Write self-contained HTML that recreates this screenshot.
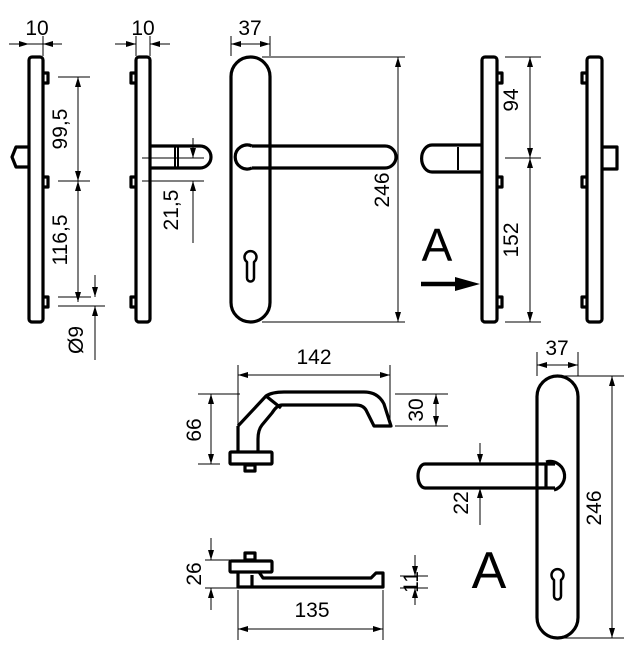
<!DOCTYPE html>
<html><head><style>
body{margin:0;background:#fff}
svg{display:block}
text{font-family:"Liberation Sans",sans-serif;fill:#000}
</style></head><body>
<svg width="634" height="647" viewBox="0 0 634 647" xmlns="http://www.w3.org/2000/svg">
<defs>
<marker id="a" viewBox="0 0 10 6" refX="10" refY="3" markerWidth="10" markerHeight="6" orient="auto-start-reverse" markerUnits="userSpaceOnUse"><path d="M0,0L10,3L0,6z" fill="#000"/></marker>
</defs>
<g fill="none" stroke="#000" stroke-width="3.2" stroke-linejoin="round">
<rect x="29" y="57" width="14" height="265" rx="3"/>
<path d="M43,73h5v10h-5M43,177h5v10h-5M43,297h5v10h-5"/>
<path d="M28,147h-12l-4,10 4,10h12"/>
<rect x="136" y="57" width="14" height="265" rx="3"/>
<path d="M136,73h-5v10h5M136,177h-5v10h5M136,297h-5v10h5"/>
<path d="M150,146h50a11,11 0 0 1 0,22h-50"/>
<path d="M175,146v22M178,146v22" stroke-width="2"/>
<rect x="231" y="57" width="39" height="265" rx="19.5"/>
<path d="M270,146h115a11,11 0 0 1 0,22h-115"/>
<path d="M252,146a12,12 0 1 0 0,22"/>
<path d="M252,146h18M252,168h18"/>
<path d="M247,262a6,6 0 1 1 7,0v16a3.5,3.5 0 0 1 -7,0z" stroke-width="2.5"/>
<rect x="482" y="57" width="15" height="265" rx="3"/>
<path d="M497,73h5v10h-5M497,177h5v10h-5M497,297h5v10h-5"/>
<path d="M482,145h-50a10,13 0 0 0 0,27h50"/>
<path d="M458,147v23" stroke-width="2"/>
<rect x="587" y="57" width="15" height="265" rx="3"/>
<path d="M587,73h-5v10h5M587,177h-5v10h5M587,297h-5v10h5"/>
<path d="M602,147h15v22h-15"/>
<path d="M238,426l28,-30q6,-4 18,-4h80q14,0 20,12l7,22h-17l-8,-16q-3,-5 -10,-5h-74q-5,0 -10,8l-10,12q-4,5 -4,14v14"/>
<path d="M266,396l15,12"/>
<path d="M238,426v25"/>
<rect x="230" y="452" width="42" height="12" rx="1"/>
<rect x="245" y="465" width="10" height="6"/>
<rect x="230" y="561" width="42" height="11" rx="1"/>
<rect x="245" y="553" width="10" height="7"/>
<path d="M238,572v15h145v-14h-7l-5,5h-108l-4,-6M252,575v12"/>
<rect x="537" y="376" width="41" height="262" rx="20.5"/>
<path d="M555,464h-130a7,12 0 0 0 0,24h130"/>
<path d="M546,464v24"/>
<path d="M546,462a14,14 0 1 1 8,28" />
<path d="M554,580a6,6 0 1 1 7,0v16a3.5,3.5 0 0 1 -7,0z" stroke-width="2.5"/>
</g>
<path d="M421,284h40" stroke="#000" stroke-width="4.5"/>
<path d="M455,277l25,7l-25,7z" fill="#000"/>
<g fill="none" stroke="#000" stroke-width="1">
<path d="M9,44H62M43,36V56" />
<path d="M9,44h20" marker-end="url(#a)"/><path d="M62,44h-19" marker-end="url(#a)"/>
<path d="M58,77h32M58,181h32M58,297h33M58,306h47"/>
<path d="M78,129V77" marker-end="url(#a)"/><path d="M78,129V181" marker-end="url(#a)"/>
<path d="M78,240V181" marker-end="url(#a)"/><path d="M78,240V302" marker-end="url(#a)"/>
<path d="M95,275v22" marker-end="url(#a)"/><path d="M95,360v-54" marker-end="url(#a)"/>
<path d="M136,36V56M150,36V56"/>
<path d="M115,44h21" marker-end="url(#a)"/><path d="M170,44h-20" marker-end="url(#a)"/>
<path d="M142,158h62M142,181h62"/>
<path d="M193,138v20" marker-end="url(#a)"/><path d="M193,243v-62" marker-end="url(#a)"/>
<path d="M231,36V56M270,36V56"/>
<path d="M250,44h-19" marker-end="url(#a)"/><path d="M250,44h20" marker-end="url(#a)"/>
<path d="M262,57h143M262,322h143"/>
<path d="M398,190V57" marker-end="url(#a)"/><path d="M398,190V322" marker-end="url(#a)"/>
<path d="M505,57h36M505,158h36M505,322h36"/>
<path d="M530,110V57" marker-end="url(#a)"/><path d="M530,110V158" marker-end="url(#a)"/>
<path d="M530,240V158" marker-end="url(#a)"/><path d="M530,240V322" marker-end="url(#a)"/>
<path d="M238,365V452M390,365V420"/>
<path d="M314,375h-76" marker-end="url(#a)"/><path d="M314,375h76" marker-end="url(#a)"/>
<path d="M198,394h42M198,464h22"/>
<path d="M211,430v-36" marker-end="url(#a)"/><path d="M211,430v34" marker-end="url(#a)"/>
<path d="M395,394h53M395,426h53"/>
<path d="M436,410v-16" marker-end="url(#a)"/><path d="M436,410v16" marker-end="url(#a)"/>
<path d="M537,352V376M578,352V376"/>
<path d="M557,365h-20" marker-end="url(#a)"/><path d="M557,365h21" marker-end="url(#a)"/>
<path d="M560,376h64M560,638h64"/>
<path d="M612,508V376" marker-end="url(#a)"/><path d="M612,508V638" marker-end="url(#a)"/>
<path d="M480,443v21" marker-end="url(#a)"/><path d="M480,525v-37" marker-end="url(#a)"/>
<path d="M205,560h25M205,588h33"/>
<path d="M211,538v22" marker-end="url(#a)"/><path d="M211,610v-22" marker-end="url(#a)"/>
<path d="M400,576h28M400,588h28"/>
<path d="M415,555v21" marker-end="url(#a)"/><path d="M415,605v-17" marker-end="url(#a)"/>
<path d="M238,590V640M383,590V640"/>
<path d="M310,629h-72" marker-end="url(#a)"/><path d="M310,629h73" marker-end="url(#a)"/>
</g>
<g font-size="21">
<text x="37" y="35" text-anchor="middle">10</text>
<text x="143" y="35" text-anchor="middle">10</text>
<text x="250" y="35" text-anchor="middle">37</text>
<text transform="translate(67,129) rotate(-90)" text-anchor="middle">99,5</text>
<text transform="translate(67,240) rotate(-90)" text-anchor="middle">116,5</text>
<text transform="translate(83,340) rotate(-90)" text-anchor="middle">Ø9</text>
<text transform="translate(178,210) rotate(-90)" text-anchor="middle">21,5</text>
<text transform="translate(389,190) rotate(-90)" text-anchor="middle">246</text>
<text transform="translate(518,100) rotate(-90)" text-anchor="middle">94</text>
<text transform="translate(518,240) rotate(-90)" text-anchor="middle">152</text>
<text x="314" y="364" text-anchor="middle">142</text>
<text transform="translate(201,430) rotate(-90)" text-anchor="middle">66</text>
<text transform="translate(423,410) rotate(-90)" text-anchor="middle">30</text>
<text x="557" y="355" text-anchor="middle">37</text>
<text transform="translate(601,508) rotate(-90)" text-anchor="middle">246</text>
<text transform="translate(468,503) rotate(-90)" text-anchor="middle">22</text>
<text transform="translate(201,574) rotate(-90)" text-anchor="middle">26</text>
<text transform="translate(418,582) rotate(-90)" text-anchor="middle">11</text>
<text x="312" y="617" text-anchor="middle">135</text>
</g>
<text x="437" y="261" font-size="46" text-anchor="middle">A</text>
<text x="489" y="588" font-size="52" text-anchor="middle">A</text>
</svg>
</body></html>
